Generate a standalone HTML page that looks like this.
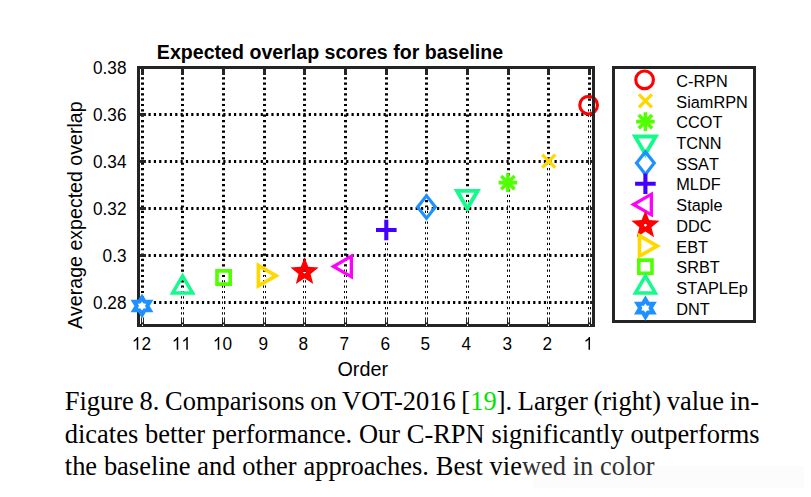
<!DOCTYPE html>
<html><head><meta charset="utf-8"><style>
html,body{margin:0;padding:0;background:#fff;width:811px;height:497px;overflow:hidden}
svg{position:absolute;left:0;top:0} svg text{font-kerning:none}
.cap{position:absolute;left:64.8px;font-family:"Liberation Serif", serif;font-size:26.45px;color:#000;white-space:nowrap;line-height:32px}
.g{color:#00e400} .e{color:#303030}
</style></head><body>
<div style="position:absolute;left:533px;top:466px;width:271px;height:22px;background:#fcfcfc"></div>
<svg width="811" height="497" viewBox="0 0 811 497">
<g stroke="#000" stroke-width="3"><line x1="142.5" y1="66.5" x2="142.5" y2="325.5" stroke-dasharray="2.2 3.143"/><line x1="182.5" y1="66.5" x2="182.5" y2="325.5" stroke-dasharray="2.2 3.143"/><line x1="223.5" y1="66.5" x2="223.5" y2="325.5" stroke-dasharray="2.2 3.143"/><line x1="264.5" y1="66.5" x2="264.5" y2="325.5" stroke-dasharray="2.2 3.143"/><line x1="304.5" y1="66.5" x2="304.5" y2="325.5" stroke-dasharray="2.2 3.143"/><line x1="345.5" y1="66.5" x2="345.5" y2="325.5" stroke-dasharray="2.2 3.143"/><line x1="386.5" y1="66.5" x2="386.5" y2="325.5" stroke-dasharray="2.2 3.143"/><line x1="426.5" y1="66.5" x2="426.5" y2="325.5" stroke-dasharray="2.2 3.143"/><line x1="467.5" y1="66.5" x2="467.5" y2="325.5" stroke-dasharray="2.2 3.143"/><line x1="508.5" y1="66.5" x2="508.5" y2="325.5" stroke-dasharray="2.2 3.143"/><line x1="548.5" y1="66.5" x2="548.5" y2="325.5" stroke-dasharray="2.2 3.143"/><line x1="589.5" y1="66.5" x2="589.5" y2="325.5" stroke-dasharray="2.2 3.143"/><line x1="137.8" y1="114.5" x2="593.5" y2="114.5" stroke-dasharray="2.2 3.143"/><line x1="137.8" y1="161.5" x2="593.5" y2="161.5" stroke-dasharray="2.2 3.143"/><line x1="137.8" y1="208.5" x2="593.5" y2="208.5" stroke-dasharray="2.2 3.143"/><line x1="137.8" y1="255.5" x2="593.5" y2="255.5" stroke-dasharray="2.2 3.143"/><line x1="137.8" y1="302.5" x2="593.5" y2="302.5" stroke-dasharray="2.2 3.143"/></g>
<g stroke="#242424" stroke-width="3"><line x1="142.5" y1="67.5" x2="142.5" y2="75.0"/><line x1="142.5" y1="325.5" x2="142.5" y2="318.0"/><line x1="182.5" y1="67.5" x2="182.5" y2="75.0"/><line x1="182.5" y1="325.5" x2="182.5" y2="318.0"/><line x1="223.5" y1="67.5" x2="223.5" y2="75.0"/><line x1="223.5" y1="325.5" x2="223.5" y2="318.0"/><line x1="264.5" y1="67.5" x2="264.5" y2="75.0"/><line x1="264.5" y1="325.5" x2="264.5" y2="318.0"/><line x1="304.5" y1="67.5" x2="304.5" y2="75.0"/><line x1="304.5" y1="325.5" x2="304.5" y2="318.0"/><line x1="345.5" y1="67.5" x2="345.5" y2="75.0"/><line x1="345.5" y1="325.5" x2="345.5" y2="318.0"/><line x1="386.5" y1="67.5" x2="386.5" y2="75.0"/><line x1="386.5" y1="325.5" x2="386.5" y2="318.0"/><line x1="426.5" y1="67.5" x2="426.5" y2="75.0"/><line x1="426.5" y1="325.5" x2="426.5" y2="318.0"/><line x1="467.5" y1="67.5" x2="467.5" y2="75.0"/><line x1="467.5" y1="325.5" x2="467.5" y2="318.0"/><line x1="508.5" y1="67.5" x2="508.5" y2="75.0"/><line x1="508.5" y1="325.5" x2="508.5" y2="318.0"/><line x1="548.5" y1="67.5" x2="548.5" y2="75.0"/><line x1="548.5" y1="325.5" x2="548.5" y2="318.0"/><line x1="589.5" y1="67.5" x2="589.5" y2="75.0"/><line x1="589.5" y1="325.5" x2="589.5" y2="318.0"/><line x1="138.5" y1="114.5" x2="146.0" y2="114.5"/><line x1="593.5" y1="114.5" x2="586.0" y2="114.5"/><line x1="138.5" y1="161.5" x2="146.0" y2="161.5"/><line x1="593.5" y1="161.5" x2="586.0" y2="161.5"/><line x1="138.5" y1="208.5" x2="146.0" y2="208.5"/><line x1="593.5" y1="208.5" x2="586.0" y2="208.5"/><line x1="138.5" y1="255.5" x2="146.0" y2="255.5"/><line x1="593.5" y1="255.5" x2="586.0" y2="255.5"/><line x1="138.5" y1="302.5" x2="146.0" y2="302.5"/><line x1="593.5" y1="302.5" x2="586.0" y2="302.5"/></g>
<rect x="138.5" y="67.5" width="455.0" height="258.0" fill="none" stroke="#242424" stroke-width="3"/>
<text x="330" y="58.8" font-family="Liberation Sans, sans-serif" font-weight="bold" font-size="19.6" text-anchor="middle" fill="#000">Expected overlap scores for baseline</text>
<text transform="translate(126.5,73.5) scale(1,1.08)" font-family="Liberation Sans, sans-serif" font-size="17.2" text-anchor="end" fill="#000">0.38</text>
<text transform="translate(126.5,120.5) scale(1,1.08)" font-family="Liberation Sans, sans-serif" font-size="17.2" text-anchor="end" fill="#000">0.36</text>
<text transform="translate(126.5,167.5) scale(1,1.08)" font-family="Liberation Sans, sans-serif" font-size="17.2" text-anchor="end" fill="#000">0.34</text>
<text transform="translate(126.5,214.5) scale(1,1.08)" font-family="Liberation Sans, sans-serif" font-size="17.2" text-anchor="end" fill="#000">0.32</text>
<text transform="translate(126.5,261.5) scale(1,1.08)" font-family="Liberation Sans, sans-serif" font-size="17.2" text-anchor="end" fill="#000">0.3</text>
<text transform="translate(126.5,308.5) scale(1,1.08)" font-family="Liberation Sans, sans-serif" font-size="17.2" text-anchor="end" fill="#000">0.28</text>
<path transform="translate(131.83,349.8) scale(0.008398,-0.009070)" d="M763,0 L583,0 L583,1100 Q518,1040 412,980 Q306,920 221,890 L221,1060 Q372,1130 485,1225 Q598,1320 645,1409 L763,1409 Z" fill="#000"/>
<text transform="translate(141.40,349.8) scale(1,1.08)" font-family="Liberation Sans, sans-serif" font-size="17.2" fill="#000">2</text>
<path transform="translate(171.83,349.8) scale(0.008398,-0.009070)" d="M763,0 L583,0 L583,1100 Q518,1040 412,980 Q306,920 221,890 L221,1060 Q372,1130 485,1225 Q598,1320 645,1409 L763,1409 Z" fill="#000"/>
<path transform="translate(181.40,349.8) scale(0.008398,-0.009070)" d="M763,0 L583,0 L583,1100 Q518,1040 412,980 Q306,920 221,890 L221,1060 Q372,1130 485,1225 Q598,1320 645,1409 L763,1409 Z" fill="#000"/>
<path transform="translate(212.83,349.8) scale(0.008398,-0.009070)" d="M763,0 L583,0 L583,1100 Q518,1040 412,980 Q306,920 221,890 L221,1060 Q372,1130 485,1225 Q598,1320 645,1409 L763,1409 Z" fill="#000"/>
<text transform="translate(222.40,349.8) scale(1,1.08)" font-family="Liberation Sans, sans-serif" font-size="17.2" fill="#000">0</text>
<text transform="translate(258.62,349.8) scale(1,1.08)" font-family="Liberation Sans, sans-serif" font-size="17.2" fill="#000">9</text>
<text transform="translate(298.62,349.8) scale(1,1.08)" font-family="Liberation Sans, sans-serif" font-size="17.2" fill="#000">8</text>
<text transform="translate(339.62,349.8) scale(1,1.08)" font-family="Liberation Sans, sans-serif" font-size="17.2" fill="#000">7</text>
<text transform="translate(380.62,349.8) scale(1,1.08)" font-family="Liberation Sans, sans-serif" font-size="17.2" fill="#000">6</text>
<text transform="translate(420.62,349.8) scale(1,1.08)" font-family="Liberation Sans, sans-serif" font-size="17.2" fill="#000">5</text>
<text transform="translate(461.62,349.8) scale(1,1.08)" font-family="Liberation Sans, sans-serif" font-size="17.2" fill="#000">4</text>
<text transform="translate(502.62,349.8) scale(1,1.08)" font-family="Liberation Sans, sans-serif" font-size="17.2" fill="#000">3</text>
<text transform="translate(542.62,349.8) scale(1,1.08)" font-family="Liberation Sans, sans-serif" font-size="17.2" fill="#000">2</text>
<path transform="translate(583.62,349.8) scale(0.008398,-0.009070)" d="M763,0 L583,0 L583,1100 Q518,1040 412,980 Q306,920 221,890 L221,1060 Q372,1130 485,1225 Q598,1320 645,1409 L763,1409 Z" fill="#000"/>
<text x="362.7" y="375.6" font-family="Liberation Sans, sans-serif" font-size="19.8" text-anchor="middle" fill="#000">Order</text>
<text transform="translate(82.2,215.2) rotate(-90)" font-family="Liberation Sans, sans-serif" font-size="19.6" text-anchor="middle" fill="#000">Average expected overlap</text>
<g stroke="#fff" stroke-width="1"><line x1="589.5" y1="105.6" x2="589.5" y2="322.4" /><line x1="589.5" y1="324.4" x2="589.5" y2="326" /><line x1="548.5" y1="161.2" x2="548.5" y2="322.4" /><line x1="548.5" y1="324.4" x2="548.5" y2="326" /><line x1="508.5" y1="182.6" x2="508.5" y2="322.4" /><line x1="508.5" y1="324.4" x2="508.5" y2="326" /><line x1="467.5" y1="196.8" x2="467.5" y2="322.4" /><line x1="467.5" y1="324.4" x2="467.5" y2="326" /><line x1="426.5" y1="207.0" x2="426.5" y2="322.4" /><line x1="426.5" y1="324.4" x2="426.5" y2="326" /><line x1="386.5" y1="230.0" x2="386.5" y2="322.4" /><line x1="386.5" y1="324.4" x2="386.5" y2="326" /><line x1="345.5" y1="266.5" x2="345.5" y2="322.4" /><line x1="345.5" y1="324.4" x2="345.5" y2="326" /><line x1="304.5" y1="272.0" x2="304.5" y2="322.4" /><line x1="304.5" y1="324.4" x2="304.5" y2="326" /><line x1="264.5" y1="275.7" x2="264.5" y2="322.4" /><line x1="264.5" y1="324.4" x2="264.5" y2="326" /><line x1="223.5" y1="277.5" x2="223.5" y2="322.4" /><line x1="223.5" y1="324.4" x2="223.5" y2="326" /><line x1="182.5" y1="287.4" x2="182.5" y2="322.4" /><line x1="182.5" y1="324.4" x2="182.5" y2="326" /><line x1="142.5" y1="306.0" x2="142.5" y2="322.4" /><line x1="142.5" y1="324.4" x2="142.5" y2="326" /></g>
<circle cx="588.6" cy="105.19999999999999" r="8.85" fill="none" stroke="#FF0000" stroke-width="3.1"/>
<path d="M542.2,154.7 L555.2,167.7 M542.2,167.7 L555.2,154.7" stroke="#FFD800" stroke-width="3.3" fill="none"/>
<path d="M507.9,173.29999999999998 V191.9 M498.59999999999997,182.6 H517.1999999999999 M501.20399999999995,175.904 L514.596,189.296 M501.20399999999995,189.296 L514.596,175.904" stroke="#50FF00" stroke-width="3.6" fill="none"/>
<path d="M453.65,188.93 L480.95,188.93 L467.30,212.53 Z M467.30,204.74 L474.19,192.83 L460.41,192.83 Z" fill="#14FA8C" fill-rule="evenodd"/>
<path d="M426.50,193.20 L437.40,207.00 L426.50,220.80 L415.60,207.00 Z M419.68,207.00 L426.50,215.64 L433.32,207.00 L426.50,198.36 Z" fill="#1E90FF" fill-rule="evenodd"/>
<path d="M386.3,219.7 V240.3 M376.0,230.0 H396.6" stroke="#4400FF" stroke-width="4.1" fill="none"/>
<path d="M330.20,266.50 L353.00,253.40 L353.00,279.60 Z M349.70,273.90 L349.70,259.10 L336.82,266.50 Z" fill="#FF00FF" fill-rule="evenodd"/>
<path d="M304.55,257.20 L308.29,266.85 L318.63,267.43 L310.60,273.97 L313.25,283.97 L304.55,278.36 L295.85,283.97 L298.50,273.97 L290.47,267.43 L300.81,266.85 Z M304.55,273.60 L303.03,272.49 L303.61,270.71 L305.49,270.71 L306.07,272.49 Z" fill="#FF0000" fill-rule="evenodd"/>
<path d="M256.57,262.35 L279.77,275.70 L256.57,289.05 Z M260.27,282.65 L272.35,275.70 L260.27,268.75 Z" fill="#FFD800" fill-rule="evenodd"/>
<path d="M215.20,269.10 L232.00,269.10 L232.00,285.90 L215.20,285.90 Z M218.80,282.30 L228.40,282.30 L228.40,272.70 L218.80,272.70 Z" fill="#50FF00" fill-rule="evenodd"/>
<path d="M182.60,272.47 L195.60,294.87 L169.60,294.87 Z M175.68,291.37 L189.52,291.37 L182.60,279.44 Z" fill="#14FA8C" fill-rule="evenodd"/>
<path d="M142.00,293.45 L145.80,299.73 L153.41,299.73 L149.61,306.00 L153.41,312.27 L145.80,312.27 L142.00,318.55 L138.20,312.27 L130.59,312.27 L134.39,306.00 L130.59,299.73 L138.20,299.73 Z" fill="#1E90FF"/><path d="M142.00,301.40 L143.50,303.53 L146.18,303.70 L144.99,306.00 L146.18,308.30 L143.50,308.47 L142.00,310.60 L140.50,308.47 L137.82,308.30 L139.01,306.00 L137.82,303.70 L140.50,303.53 Z" fill="#fff"/>
<line x1="593.5" y1="90" x2="593.5" y2="120" stroke="#242424" stroke-width="3"/>
<rect x="613.5" y="67.5" width="141" height="254" fill="#fff" stroke="#242424" stroke-width="3"/>
<circle cx="644.6" cy="79.8" r="8.85" fill="none" stroke="#FF0000" stroke-width="3.1"/>
<text x="676.3" y="86.8" font-family="Liberation Sans, sans-serif" font-size="16.3" fill="#000">C-RPN</text>
<path d="M638.9,94.42 L651.9,107.42 M638.9,107.42 L651.9,94.42" stroke="#FFD800" stroke-width="3.3" fill="none"/>
<text x="676.3" y="107.5" font-family="Liberation Sans, sans-serif" font-size="16.3" fill="#000">SiamRPN</text>
<path d="M645.4,112.34 V130.94 M636.1,121.64 H654.6999999999999 M638.704,114.944 L652.096,128.336 M638.704,128.336 L652.096,114.944" stroke="#50FF00" stroke-width="3.6" fill="none"/>
<text x="676.3" y="128.2" font-family="Liberation Sans, sans-serif" font-size="16.3" fill="#000">CCOT</text>
<path d="M631.75,134.49 L659.05,134.49 L645.40,158.09 Z M645.40,150.30 L652.29,138.39 L638.51,138.39 Z" fill="#14FA8C" fill-rule="evenodd"/>
<text x="676.3" y="149.0" font-family="Liberation Sans, sans-serif" font-size="16.3" fill="#000">TCNN</text>
<path d="M645.40,149.28 L656.30,163.08 L645.40,176.88 L634.50,163.08 Z M638.58,163.08 L645.40,171.72 L652.22,163.08 L645.40,154.44 Z" fill="#1E90FF" fill-rule="evenodd"/>
<text x="676.3" y="169.7" font-family="Liberation Sans, sans-serif" font-size="16.3" fill="#000">SSAT</text>
<path d="M645.4,173.5 V194.10000000000002 M635.1,183.8 H655.6999999999999" stroke="#4400FF" stroke-width="4.1" fill="none"/>
<text x="676.3" y="190.4" font-family="Liberation Sans, sans-serif" font-size="16.3" fill="#000">MLDF</text>
<path d="M630.20,204.52 L653.00,191.42 L653.00,217.62 Z M649.70,211.92 L649.70,197.12 L636.82,204.52 Z" fill="#FF00FF" fill-rule="evenodd"/>
<text x="676.3" y="211.1" font-family="Liberation Sans, sans-serif" font-size="16.3" fill="#000">Staple</text>
<path d="M645.40,210.44 L649.14,220.09 L659.48,220.67 L651.45,227.21 L654.10,237.21 L645.40,231.60 L636.70,237.21 L639.35,227.21 L631.32,220.67 L641.66,220.09 Z M645.40,226.84 L643.88,225.73 L644.46,223.95 L646.34,223.95 L646.92,225.73 Z" fill="#FF0000" fill-rule="evenodd"/>
<text x="676.3" y="231.8" font-family="Liberation Sans, sans-serif" font-size="16.3" fill="#000">DDC</text>
<path d="M637.67,232.61 L660.87,245.96 L637.67,259.31 Z M641.37,252.91 L653.45,245.96 L641.37,239.01 Z" fill="#FFD800" fill-rule="evenodd"/>
<text x="676.3" y="252.6" font-family="Liberation Sans, sans-serif" font-size="16.3" fill="#000">EBT</text>
<path d="M637.00,258.28 L653.80,258.28 L653.80,275.08 L637.00,275.08 Z M640.60,271.48 L650.20,271.48 L650.20,261.88 L640.60,261.88 Z" fill="#50FF00" fill-rule="evenodd"/>
<text x="676.3" y="273.3" font-family="Liberation Sans, sans-serif" font-size="16.3" fill="#000">SRBT</text>
<path d="M645.40,272.47 L658.40,294.87 L632.40,294.87 Z M638.48,291.37 L652.32,291.37 L645.40,279.44 Z" fill="#14FA8C" fill-rule="evenodd"/>
<text x="676.3" y="294.0" font-family="Liberation Sans, sans-serif" font-size="16.3" fill="#000">STAPLEp</text>
<path d="M645.40,295.57 L649.20,301.85 L656.81,301.85 L653.01,308.12 L656.81,314.39 L649.20,314.39 L645.40,320.67 L641.60,314.39 L633.99,314.39 L637.79,308.12 L633.99,301.85 L641.60,301.85 Z" fill="#1E90FF"/><path d="M645.40,303.52 L646.90,305.65 L649.58,305.82 L648.39,308.12 L649.58,310.42 L646.90,310.59 L645.40,312.72 L643.90,310.59 L641.22,310.42 L642.41,308.12 L641.22,305.82 L643.90,305.65 Z" fill="#fff"/>
<text x="676.3" y="314.7" font-family="Liberation Sans, sans-serif" font-size="16.3" fill="#000">DNT</text>
</svg>
<div class="cap" style="top:385.2px;word-spacing:-0.88px">Figure 8. Comparisons on VOT-2016 [<span class="g">19</span>]. Larger (right) value in-</div>
<div class="cap" style="top:418.4px;word-spacing:0.17px">dicates better performance. Our C-RPN significantly outperforms</div>
<div class="cap" style="top:449.6px;word-spacing:0.2px">the baseline and other approaches. Best vie<span class="e">wed in color</span></div>
</body></html>
